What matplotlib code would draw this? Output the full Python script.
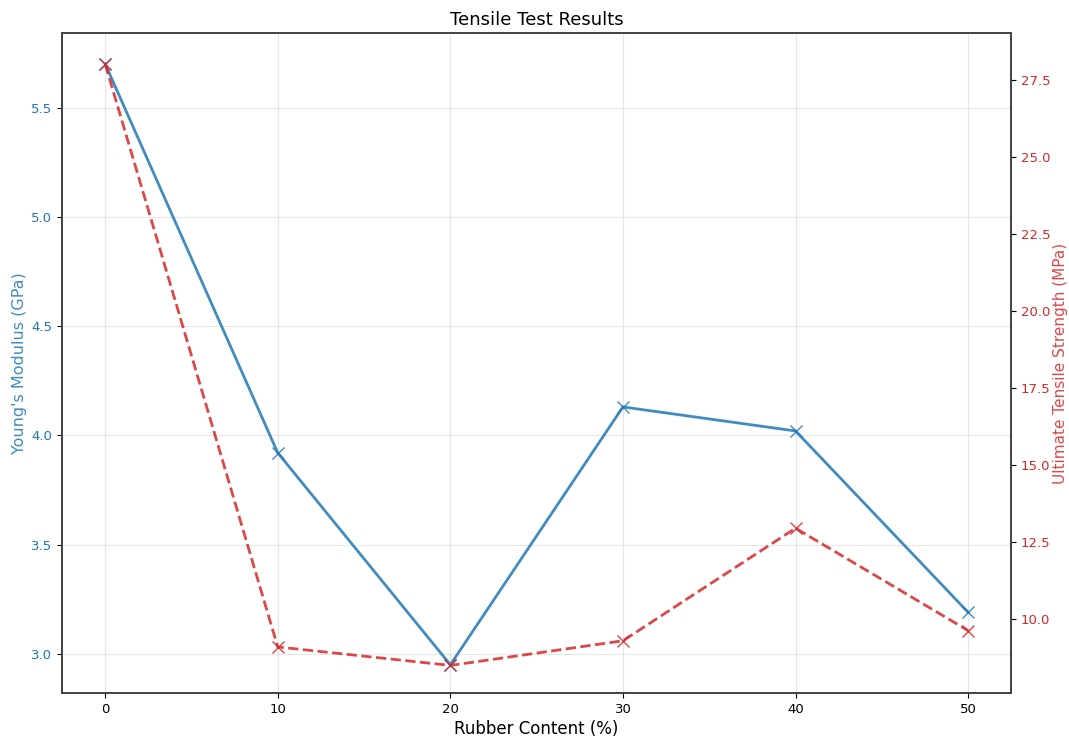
import numpy as np
import matplotlib
matplotlib.use('Agg')
from matplotlib import pyplot as plt

# data
rubber = [0, 10, 20, 30, 40, 50]
youngs = [5.70, 3.92, 2.95, 4.13, 4.02, 3.19]
uts = [28.0, 9.1, 8.5, 9.3, 12.95, 9.63]

blue = '#1f77b4'
red = '#d62728'

fig, ax1 = plt.subplots(figsize=(10.69, 7.39), dpi=100)
fig.subplots_adjust(left=0.058, right=0.946, top=0.955, bottom=0.062)

ax1.plot(rubber, youngs, color=blue, marker='x', markersize=9, linewidth=2,
         alpha=0.85)
ax1.set_xlabel('Rubber Content (%)', fontsize=12, labelpad=3)
ax1.set_ylabel("Young's Modulus (GPa)", color=blue, fontsize=11.5, alpha=0.85,
               labelpad=3)
ax1.tick_params(axis='y', labelcolor=blue, labelsize=9.5)
ax1.tick_params(axis='x', labelsize=9.5)
ax1.set_xticks(rubber)
ax1.grid(True, alpha=0.3)
ax1.set_ylim(2.82, 5.84)

ax2 = ax1.twinx()
ax2.plot(rubber, uts, color=red, marker='x', markersize=9, linewidth=2,
         linestyle='--', alpha=0.85)
ax2.set_ylabel('Ultimate Tensile Strength (MPa)', color=red, fontsize=11,
               alpha=0.85, labelpad=2)
ax2.tick_params(axis='y', labelcolor=red, labelsize=9.5)
ax2.set_ylim(7.6, 29.0)

for ax in (ax1, ax2):
    for s in ax.spines.values():
        s.set_color('#444444')
        s.set_linewidth(1.3)

ax1.set_title('Tensile Test Results', fontsize=13)

plt.savefig('out.png')
